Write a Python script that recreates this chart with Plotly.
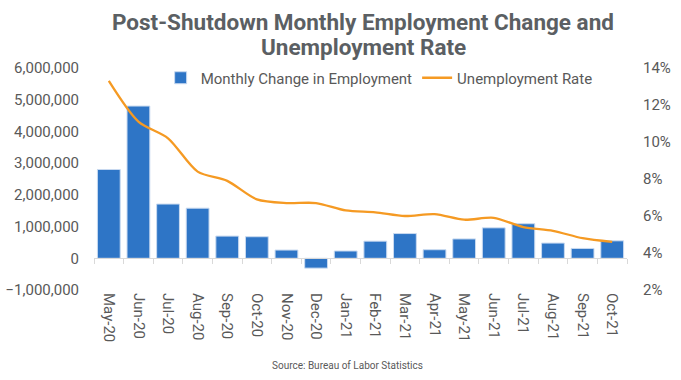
import plotly.graph_objects as go

months = ["May-20", "Jun-20", "Jul-20", "Aug-20", "Sep-20", "Oct-20", "Nov-20", "Dec-20",
          "Jan-21", "Feb-21", "Mar-21", "Apr-21", "May-21", "Jun-21", "Jul-21", "Aug-21",
          "Sep-21", "Oct-21"]
employment_change = [2800000, 4800000, 1710000, 1580000, 700000, 680000, 260000, -310000,
                     230000, 540000, 780000, 270000, 610000, 960000, 1090000, 480000,
                     310000, 550000]
unemployment_rate = [13.3, 11.1, 10.2, 8.4, 7.9, 6.9, 6.7, 6.7, 6.3, 6.2, 6.0, 6.1, 5.8,
                     5.9, 5.4, 5.2, 4.8, 4.6]
left_ticks = [-1000000, 0, 1000000, 2000000, 3000000, 4000000, 5000000, 6000000]
right_ticks = [2, 4, 6, 8, 10, 12, 14]
right_tick_labels = ["2%", "4%", "6%", "8%", "10%", "12%", "14%"]

GRAY = "#595959"
BLUE = "#2E75C6"
ORANGE = "#F59A23"
FONT = "Roboto"

fig = go.Figure()
fig.add_trace(go.Bar(
    x=months, y=employment_change, name="Monthly Change in Employment",
    marker=dict(color=BLUE, line=dict(color="#c9daf0", width=1)),
    yaxis="y", xaxis="x",
))
fig.add_trace(go.Scatter(
    x=months, y=unemployment_rate, name="Unemployment Rate",
    mode="lines", line=dict(color=ORANGE, width=2.3, shape="spline", smoothing=0.8),
    yaxis="y2", xaxis="x",
))
# invisible trace to host the zero-line category tick axis
fig.add_trace(go.Scatter(x=[0], y=[0], xaxis="x2", yaxis="y", mode="markers",
                         marker=dict(opacity=0), showlegend=False, hoverinfo="skip"))

fig.update_layout(
    width=681, height=380,
    margin=dict(l=94, r=54, t=68, b=90, autoexpand=False),
    paper_bgcolor="white", plot_bgcolor="white",
    font=dict(family=FONT, color=GRAY, size=15),
    bargap=0.23,
    showlegend=True,
    legend=dict(orientation="h", x=0.535, xanchor="center", y=0.955, yanchor="middle",
                font=dict(size=15, color=GRAY), bgcolor="rgba(0,0,0,0)"),
    xaxis=dict(
        type="category", range=[-0.5, 17.5], showgrid=False, showline=False,
        ticks="", tickangle=90, tickfont=dict(size=15, color=GRAY),
        ticklabelstandoff=2, automargin=False,
    ),
    xaxis2=dict(
        overlaying="x", anchor="free", position=1/7, range=[-0.5, 17.5],
        showline=True, linecolor="#d9d9d9", linewidth=1,
        ticks="outside", ticklen=5, tickcolor="#d9d9d9",
        tickvals=[i - 0.5 for i in range(19)], showticklabels=False, showgrid=False,
        zeroline=False, automargin=False,
    ),
    yaxis=dict(
        range=[-1000000, 6000000], tickvals=left_ticks, tickformat=",d",
        showgrid=False, zeroline=False, showline=False, ticks="",
        tickfont=dict(size=15, color=GRAY), ticklabelstandoff=14, automargin=False,
    ),
    yaxis2=dict(
        overlaying="y", side="right", range=[2, 14], tickmode="array",
        tickvals=right_ticks, ticktext=right_tick_labels,
        showgrid=False, zeroline=False, showline=False, ticks="",
        tickfont=dict(size=15, color=GRAY), ticklabelstandoff=15, automargin=False,
    ),
    annotations=[
        dict(
            text="<b>Post-Shutdown Monthly Employment Change and</b>",
            xref="paper", yref="paper", x=0.505, y=1 + (68 - 22) / 222,
            xanchor="center", yanchor="middle",
            showarrow=False, font=dict(family=FONT, size=22.5, color="#5b5f63"),
        ),
        dict(
            text="<b>Unemployment Rate</b>",
            xref="paper", yref="paper", x=0.505, y=1 + (68 - 47) / 222,
            xanchor="center", yanchor="middle",
            showarrow=False, font=dict(family=FONT, size=22.5, color="#5b5f63"),
        ),
        dict(
            text="Source: Bureau of Labor Statistics", xref="paper", yref="paper",
            x=0.475, y=-0.34, xanchor="center", yanchor="middle", showarrow=False,
            font=dict(size=10, color=GRAY),
        ),
    ],
)

fig.write_html("out.html", config={"displayModeBar": False},
               post_script="document.body.style.margin='0';document.body.style.overflow='hidden';")
